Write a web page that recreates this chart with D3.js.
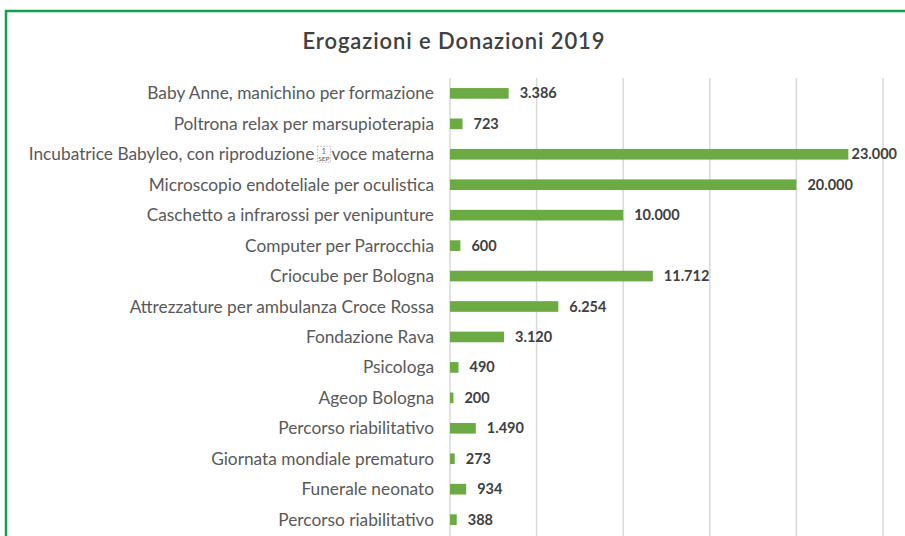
<!DOCTYPE html>
<html>
<head>
<meta charset="utf-8">
<script src="https://cdn.jsdelivr.net/npm/d3@7"></script>
<style>
  body { margin: 0; background: #fff; }
  svg { display: block; }
</style>
</head>
<body>
<div id="chart"></div>
<script>
// data
let categories = [
    "Baby Anne, manichino per formazione",
    "Poltrona relax per marsupioterapia",
    "Incubatrice Babyleo, con riproduzione|voce materna",
    "Microscopio endoteliale per oculistica",
    "Caschetto a infrarossi per venipunture",
    "Computer per Parrocchia",
    "Criocube per Bologna",
    "Attrezzature per ambulanza Croce Rossa",
    "Fondazione Rava",
    "Psicologa",
    "Ageop Bologna",
    "Percorso riabilitativo",
    "Giornata mondiale prematuro",
    "Funerale neonato",
    "Percorso riabilitativo "
];
let values = [3386, 723, 23000, 20000, 10000, 600, 11712, 6254, 3120, 490, 200, 1490, 273, 934, 388];
let ticks = [0, 5000, 10000, 15000, 20000, 25000];
let title = "Erogazioni e Donazioni 2019";

let w = 905;
let h = 536;
let m = {top: 78, right: 22, bottom: 1, left: 450};

let it = d3.formatLocale({decimal: ",", thousands: ".", grouping: [3], currency: ["€", ""]});
let fmt = it.format(",d");

let svg = d3.select("#chart")
    .append("svg")
    .attr("width", w)
    .attr("height", h);

// green frame
svg.append("path")
    .attr("d", "M6,540 V11 H910")
    .attr("fill", "none")
    .attr("stroke", "#17a04b")
    .attr("stroke-width", 2.5);

svg.append("text")
    .attr("x", 454)
    .attr("y", 49)
    .attr("text-anchor", "middle")
    .attr("font-family", "Lato, sans-serif")
    .attr("font-size", 22)
    .attr("font-weight", 600)
    .attr("letter-spacing", 0.9)
    .attr("fill", "#404040")
    .text(title);

let x = d3.scaleLinear()
    .domain([0, 25000])
    .range([m.left, w - m.right]);

let y = d3.scaleBand()
    .domain(categories)
    .range([m.top, h - m.bottom])
    .paddingInner(0.65)
    .paddingOuter(0.33);

// gridlines
svg.append("g")
    .selectAll("line")
    .data(ticks)
    .enter()
    .append("line")
    .attr("x1", (d) => x(d))
    .attr("x2", (d) => x(d))
    .attr("y1", m.top)
    .attr("y2", h)
    .attr("stroke", "#d9d9d9")
    .attr("stroke-width", 1.5);

// bars
svg.append("g")
    .selectAll("rect")
    .data(values)
    .enter()
    .append("rect")
    .attr("x", x(0))
    .attr("y", (d, i) => y(categories[i]))
    .attr("width", (d) => x(d) - x(0))
    .attr("height", y.bandwidth())
    .attr("fill", "#6cab43");

// value labels
svg.append("g")
    .selectAll("text")
    .data(values)
    .enter()
    .append("text")
    .attr("y", (d, i) => y(categories[i]) + y.bandwidth() / 2 + 5)
    .attr("font-family", "Lato, sans-serif")
    .attr("font-size", 14.5)
    .attr("font-weight", 700)
    .attr("fill", "#404040")
    .text((d) => fmt(d))
    .attr("x", function (d) {
        let tw = this.getComputedTextLength();
        return Math.min(x(d) + 11, 897 - tw);
    });

// category labels (right aligned)
let labelX = 434;
let labels = svg.append("g")
    .attr("font-family", "Lato, sans-serif")
    .attr("font-size", 17.3)
    .attr("fill", "#595959");

categories.forEach((c, i) => {
    let cy = y(c) + y.bandwidth() / 2 + 6;
    let parts = c.split("|");
    if (parts.length === 1) {
        labels.append("text")
            .attr("x", labelX)
            .attr("y", cy)
            .attr("text-anchor", "end")
            .text(c.trim());
        return;
    }
    // second half, odd separator glyph, first half
    let t2 = labels.append("text")
        .attr("x", labelX)
        .attr("y", cy)
        .attr("text-anchor", "end")
        .text(parts[1]);
    let bx = labelX - t2.node().getComputedTextLength() - 14;
    labels.append("rect")
        .attr("x", bx)
        .attr("y", cy - 14)
        .attr("width", 13)
        .attr("height", 16)
        .attr("fill", "none")
        .attr("stroke", "#999")
        .attr("stroke-width", 0.7)
        .attr("stroke-dasharray", "1.5,1.5");
    labels.append("text")
        .attr("x", bx + 6.5)
        .attr("y", cy - 6)
        .attr("text-anchor", "middle")
        .attr("font-size", 7)
        .text("1");
    labels.append("text")
        .attr("x", bx + 6.5)
        .attr("y", cy + 1)
        .attr("text-anchor", "middle")
        .attr("font-size", 6.5)
        .text("SEP");
    labels.append("text")
        .attr("x", bx - 3)
        .attr("y", cy)
        .attr("text-anchor", "end")
        .text(parts[0]);
});
</script>
</body>
</html>
